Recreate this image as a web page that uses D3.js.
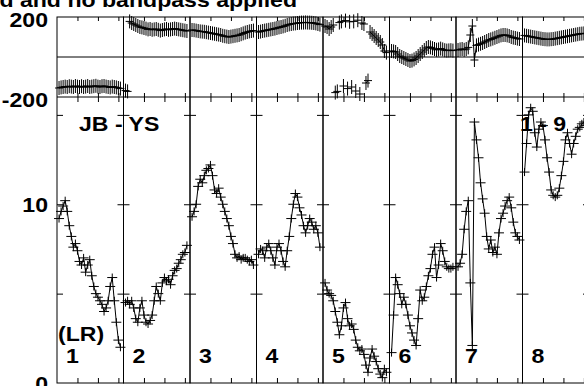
<!DOCTYPE html>
<html>
<head>
<meta charset="utf-8">
<script src="https://cdn.jsdelivr.net/npm/d3@7"></script>
<style>
body { margin: 0; background: #fff; }
svg { display: block; }
text { font-family: "Liberation Sans", Arial, sans-serif; font-weight: bold; fill: #000; }
</style>
</head>
<body>
<script>
// POSSM style plot, phase on top, amplitude below, one panel per IF

var width = 584, height = 386;

var ifLabels = ["1", "2", "3", "4", "5", "6", "7", "8"];
var channels = d3.range(2, 63, 2);   // channel numbers of the plotted points
var chanTicks = [20, 40, 60];
var ampTicks = [5, 10, 15];
var ampLabels = [0, 10];
var phaseLabels = [200, -200];

// amplitude per IF
var amp1 = [9.2,9.6,9.9,10.2,9.6,8.8,8.2,7.6,7.8,7.4,6.8,6.6,7.0,6.2,6.6,6.9,6.0,5.4,5.0,4.8,4.6,4.4,4.0,4.2,4.6,5.4,5.9,4.6,3.4,2.4,2.0];
var amp2 = [4.5,4.6,4.4,4.6,4.2,3.6,3.4,4.2,4.6,3.8,3.4,3.3,3.5,3.8,4.6,5.4,5.0,4.6,5.6,5.9,5.7,5.8,5.5,6.0,6.3,6.4,6.7,6.9,7.2,7.3,7.7];
var amp3 = [9.3,9.6,10.0,11.0,11.4,11.2,11.6,11.9,12.0,12.2,11.6,10.8,10.6,10.9,10.4,10.0,9.6,9.2,8.8,8.2,7.8,7.2,7.0,7.1,6.9,7.0,7.0,6.9,6.8,6.9,6.6];
var amp4 = [7.2,7.5,7.4,7.0,7.6,7.8,7.4,7.0,6.6,7.6,7.8,7.4,6.8,6.5,7.4,8.2,9.2,10.0,10.6,10.4,9.8,9.4,8.8,8.4,8.8,9.2,9.0,8.6,8.8,8.4,7.6];
var amp5 = [5.6,5.2,5.0,4.9,4.6,4.0,3.4,2.7,3.2,4.2,4.5,3.6,3.2,3.3,3.0,2.4,2.0,1.8,1.9,1.6,1.0,0.6,1.4,1.9,1.5,1.2,0.8,0.5,0.3,0.8,0.6];
var amp6 = [1.7,3.8,5.9,5.5,5.0,4.4,4.8,4.4,3.8,3.2,2.8,2.4,2.1,3.6,5.2,4.6,4.8,5.4,6.0,6.4,7.2,7.6,5.9,6.6,7.8,7.4,6.8,6.5,6.4,6.4,6.5];
var amp7 = [6.5,6.7,7.2,8.6,9.6,10.2,5.6,2.1,14.6,13.6,12.6,11.2,10.3,9.5,8.2,7.5,8.0,7.3,7.6,7.2,8.4,9.2,9.5,9.9,10.2,10.4,9.8,9.0,8.4,8.2,8.0];
var amp8 = [11.8,13.4,15.0,15.4,15.2,14.0,13.2,14.2,14.6,14.4,13.6,12.6,11.8,10.8,10.5,10.4,10.5,10.9,11.6,12.4,13.6,14.0,13.4,12.8,13.4,13.8,14.2,14.3,14.5,14.6,14.4];

// phase per IF (degrees)
var ph1 = [-155,-152,-150,-148,-150,-146,-148,-150,-145,-148,-150,-146,-150,-148,-145,-150,-148,-146,-144,-148,-150,-146,-145,-148,-150,-152,-148,-150,-152,-155,-158];
var ph2 = [-168,-172,178,170,165,160,155,150,148,145,142,138,140,136,138,140,136,132,135,138,140,136,138,140,142,140,138,136,134,132,130];
var ph3 = [135,134,132,130,128,127,126,124,122,120,118,116,114,112,110,106,104,102,100,102,104,106,108,110,114,118,122,125,128,130,132];
var ph4 = [125,127,130,132,134,136,138,140,142,145,148,150,153,156,160,163,165,167,168,170,171,172,172,173,172,172,171,170,168,165,162];
var ph5 = [155,150,140,150,160,-178,-172,172,178,-145,182,-158,176,-150,178,-170,184,-185,170,165,-130,-118,125,115,105,95,85,75,60,30,22];
var ph6 = [30,28,25,15,5,0,-5,-10,-15,-20,-18,-12,-5,5,15,25,35,45,50,48,44,40,36,38,42,38,34,32,33,34,32];
var ph7 = [35,38,40,36,40,48,110,155,-15,58,62,66,70,75,80,85,88,92,96,100,104,108,110,110,108,105,100,97,95,92,90];
var ph8 = [108,106,104,102,100,98,96,94,92,90,89,88,88,89,90,92,94,96,98,100,102,104,106,108,110,112,114,116,117,118,118];

var amps = [amp1, amp2, amp3, amp4, amp5, amp6, amp7, amp8];
var phases = [ph1, ph2, ph3, ph4, ph5, ph6, ph7, ph8];

var left0 = 57, panelW = 66.5;
var yTop = 17, yMid = 97, yBot = 383;

var svg = d3.select("body").append("svg")
    .attr("width", width)
    .attr("height", height);

var xChan = d3.scaleLinear().domain([0, 65]).range([0, panelW]);
var yAmp = d3.scaleLinear().domain([0, 16]).range([yBot, yMid]);
var yPh = d3.scaleLinear().domain([-200, 200]).range([yMid, yTop]);

// wider glyphs like the AIPS font
function label(x, y, str, anchor) {
    svg.append("text")
        .attr("transform", "translate(" + x + "," + y + ") scale(1.1,1)")
        .attr("text-anchor", anchor || "start")
        .style("font-size", "21px")
        .text(str);
}

function cross(x, y, hw, hh) {
    return "M" + (x - hw) + "," + y + "H" + (x + hw) + "M" + x + "," + (y - hh) + "V" + (y + hh);
}

// split the phase line where it wraps
function phaseSegments(pts) {
    var segs = [], cur = [];
    pts.forEach(function (d, i) {
        if (i > 0 && Math.abs(d.p - pts[i - 1].p) > 180) {
            segs.push(cur);
            cur = [];
        }
        cur.push(d);
    });
    segs.push(cur);
    return segs;
}

var ampLine = d3.line().x(function (d) { return xChan(d.c); }).y(function (d) { return yAmp(d.a); });
var phLine = d3.line().x(function (d) { return xChan(d.c); }).y(function (d) { return yPh(d.p); });

ifLabels.forEach(function (name, i) {
    var g = svg.append("g").attr("transform", "translate(" + (left0 + i * panelW) + ",0)");

    var pts = channels.map(function (c, k) {
        return { c: c, a: amps[i][k], p: phases[i][k] };
    });

    // frame
    g.append("rect")
        .attr("x", 0).attr("y", yTop)
        .attr("width", panelW).attr("height", yBot - yTop)
        .attr("fill", "none").attr("stroke", "#000").attr("stroke-width", 1);
    g.append("line").attr("x1", 0).attr("x2", panelW).attr("y1", yMid).attr("y2", yMid).attr("stroke", "#000");
    g.append("line").attr("x1", 0).attr("x2", panelW).attr("y1", yPh(0)).attr("y2", yPh(0)).attr("stroke", "#000");

    // ticks
    var axes = [
        [d3.axisBottom(xChan).tickSize(4), yTop],
        [d3.axisTop(xChan).tickSize(4), yMid],
        [d3.axisBottom(xChan).tickSize(5), yMid],
        [d3.axisTop(xChan).tickSize(5), yBot]
    ];
    axes.forEach(function (a) {
        var ax = g.append("g").attr("transform", "translate(0," + a[1] + ")")
            .call(a[0].tickValues(chanTicks).tickFormat("").tickSizeOuter(0));
        ax.select(".domain").remove();
        ax.selectAll("line").attr("stroke", "#000");
    });
    var yl = g.append("g").call(d3.axisRight(yAmp).tickValues(ampTicks).tickFormat("").tickSize(6));
    var yr = g.append("g").attr("transform", "translate(" + panelW + ",0)")
        .call(d3.axisLeft(yAmp).tickValues(ampTicks).tickFormat("").tickSize(6));
    yl.select(".domain").remove();
    yr.select(".domain").remove();

    // amplitude
    g.append("path").datum(pts)
        .attr("d", ampLine)
        .attr("fill", "none").attr("stroke", "#000").attr("stroke-width", 1);
    g.append("path")
        .attr("d", pts.map(function (d) { return cross(xChan(d.c), yAmp(d.a), 5, 4); }).join(""))
        .attr("fill", "none").attr("stroke", "#000").attr("stroke-width", 1);

    // phase
    phaseSegments(pts).forEach(function (seg) {
        g.append("path").datum(seg)
            .attr("d", phLine)
            .attr("fill", "none").attr("stroke", "#000").attr("stroke-width", 1);
    });
    g.append("path")
        .attr("d", pts.map(function (d) { return cross(xChan(d.c), yPh(d.p), 4, 7); }).join(""))
        .attr("fill", "none").attr("stroke", "#000").attr("stroke-width", 1);

    label(left0 + i * panelW + 9, 363, name);
});

// axis labels
ampLabels.forEach(function (v) { label(48, yAmp(v) + 8, String(v), "end"); });
phaseLabels.forEach(function (v) { label(48, yPh(v) + 9.5, String(v), "end"); });

// texts
label(297, 7, "d and no bandpass applied", "end");
label(79, 131, "JB - YS");
label(58, 341, "(LR)");
label(520, 131, "1 - 9");
</script>
</body>
</html>
